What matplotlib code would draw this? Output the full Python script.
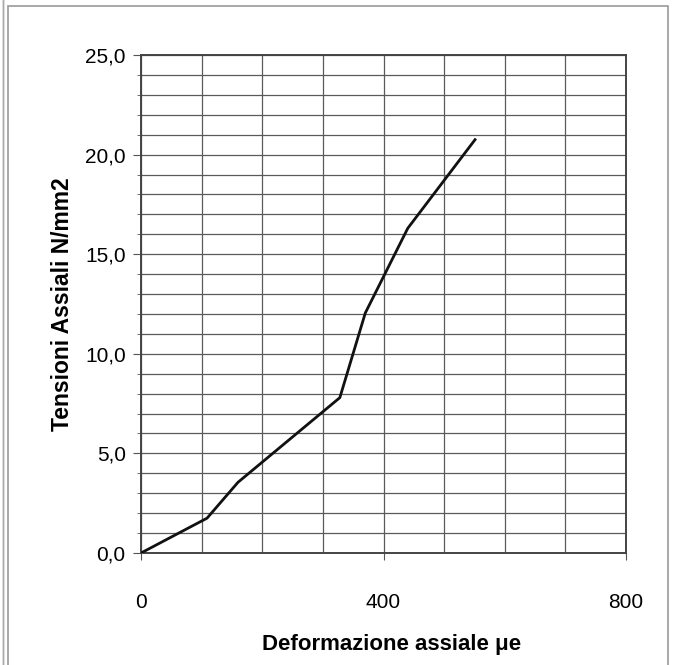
import matplotlib.pyplot as plt
from matplotlib.patches import Rectangle

# strain (micro-epsilon) vs axial stress (N/mm2)
deformazione = [0, 109, 160, 328, 370, 440, 551]
tensioni = [0.0, 1.75, 3.55, 7.8, 12.05, 16.3, 20.75]

x_ticks = [0, 400, 800]
y_ticks = [0, 5, 10, 15, 20, 25]
y_labels = ["0,0", "5,0", "10,0", "15,0", "20,0", "25,0"]

plt.rcParams['font.family'] = ['Liberation Sans', 'DejaVu Sans']

fig = plt.figure(figsize=(6.82, 6.65), dpi=100)
ax = fig.add_axes([141 / 682, 1 - 553 / 665, 485 / 682, 498 / 665])

# outer frame of the scanned sheet
fig.patches.append(Rectangle((8 / 682, -0.01), 660 / 682, 1 - 6 / 665 + 0.01,
                             transform=fig.transFigure, fill=False,
                             edgecolor='#999999', linewidth=1.2))
fig.patches.append(Rectangle((3 / 682, -0.01), 0.0, 1.02,
                             transform=fig.transFigure, fill=False,
                             edgecolor='#aaaaaa', linewidth=1.0))

ax.plot(deformazione, tensioni, color='#111111', linewidth=2.0, zorder=3)

ax.set_xlim(0, 800)
ax.set_ylim(0, 25)
ax.set_xticks(x_ticks)
ax.set_xticks(range(0, 801, 100), minor=True)
ax.set_yticks(y_ticks)
ax.set_yticklabels(y_labels)
ax.set_yticks(range(0, 26), minor=True)

ax.grid(which='both', color='#5a5a5a', linewidth=0.9)
ax.set_axisbelow(True)

ax.tick_params(axis='x', which='major', direction='out', length=5, pad=24,
               labelsize=15, color='#555555')
ax.tick_params(axis='x', which='minor', length=0)
ax.tick_params(axis='y', which='major', direction='out', length=6, pad=5,
               labelsize=15, color='#555555')
ax.tick_params(axis='y', which='minor', direction='out', length=3, color='#555555')

for s in ax.spines.values():
    s.set_color('#444444')
    s.set_linewidth(1.4)

ax.set_xlabel("Deformazione assiale μe", fontsize=16, fontweight='bold')
ax.xaxis.set_label_coords(0.516, -0.162)
ax.set_ylabel("Tensioni Assiali N/mm2", fontsize=16.5, fontweight='bold', labelpad=8)

fig.savefig("out.png", dpi=100)
